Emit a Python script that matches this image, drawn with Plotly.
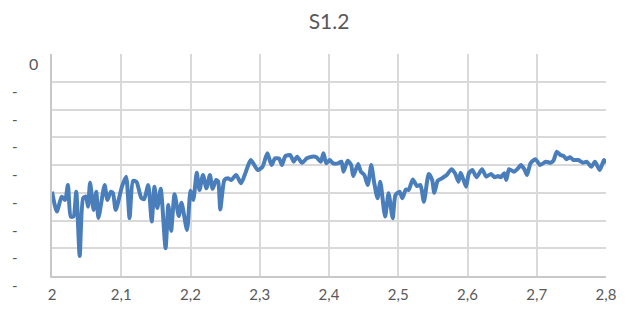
import plotly.graph_objects as go

x_vals = [2.000, 2.007, 2.014, 2.019, 2.023, 2.027, 2.031, 2.035, 2.040, 2.045,
          2.049, 2.052, 2.055, 2.060, 2.064, 2.067, 2.076, 2.080, 2.085, 2.088,
          2.092, 2.101, 2.107, 2.112, 2.117, 2.122, 2.129, 2.133, 2.139, 2.144,
          2.148, 2.152, 2.157, 2.164, 2.168, 2.172, 2.177, 2.183, 2.187, 2.195,
          2.200, 2.204, 2.209, 2.213, 2.218, 2.223, 2.228, 2.232, 2.237, 2.240,
          2.243, 2.249, 2.254, 2.259, 2.266, 2.273, 2.280, 2.287, 2.297, 2.304,
          2.311, 2.317, 2.322, 2.328, 2.332, 2.337, 2.344, 2.349, 2.354, 2.361,
          2.368, 2.375, 2.382, 2.388, 2.392, 2.396, 2.401, 2.406, 2.413, 2.418,
          2.421, 2.427, 2.432, 2.435, 2.442, 2.446, 2.451, 2.456, 2.461, 2.465,
          2.470, 2.474, 2.481, 2.486, 2.492, 2.496, 2.502, 2.506, 2.511, 2.515,
          2.521, 2.527, 2.532, 2.537, 2.544, 2.549, 2.552, 2.557, 2.563, 2.570,
          2.577, 2.582, 2.587, 2.590, 2.594, 2.598, 2.602, 2.607, 2.613, 2.621,
          2.627, 2.634, 2.639, 2.644, 2.648, 2.653, 2.656, 2.660, 2.667, 2.673,
          2.677, 2.682, 2.686, 2.691, 2.698, 2.705, 2.713, 2.720, 2.724, 2.729,
          2.734, 2.739, 2.743, 2.748, 2.753, 2.760, 2.767, 2.772, 2.779, 2.784,
          2.791, 2.797, 2.800]

y_vals = [-4.96, -5.68, -5.14, -5.26, -4.72, -5.86, -5.86, -4.96, -7.28, -5.19,
          -5.14, -5.50, -4.64, -5.62, -4.96, -5.91, -4.72, -5.26, -4.96, -5.01,
          -5.62, -4.78, -4.42, -5.91, -4.57, -4.61, -5.19, -5.23, -4.72, -6.04,
          -4.78, -5.55, -4.86, -7.00, -5.44, -6.37, -5.05, -5.84, -5.36, -6.34,
          -4.93, -5.26, -4.28, -4.90, -4.36, -4.84, -4.36, -4.86, -4.54, -4.60,
          -5.60, -4.54, -4.48, -4.54, -4.36, -4.66, -4.24, -3.82, -4.18, -4.06,
          -3.58, -4.00, -3.76, -3.77, -4.00, -3.68, -3.64, -3.88, -3.70, -3.92,
          -3.76, -3.70, -3.72, -3.88, -3.58, -3.94, -3.82, -3.94, -3.94, -3.88,
          -4.24, -3.85, -4.00, -4.40, -3.96, -4.24, -4.36, -4.72, -4.00, -4.60,
          -5.20, -4.60, -5.86, -5.02, -5.92, -5.08, -4.96, -5.20, -4.88, -4.90,
          -4.52, -4.76, -4.72, -5.32, -4.32, -4.54, -5.00, -4.57, -4.48, -4.36,
          -4.15, -4.30, -4.60, -4.28, -4.52, -4.78, -4.30, -4.18, -4.44, -4.15,
          -4.42, -4.32, -4.44, -4.40, -4.44, -4.30, -4.54, -4.15, -4.24, -4.12,
          -4.00, -4.15, -4.36, -3.94, -3.79, -4.00, -3.88, -3.92, -3.85, -3.52,
          -3.64, -3.68, -3.79, -3.72, -3.82, -3.82, -3.92, -3.88, -4.06, -3.88,
          -4.18, -3.82, -3.94]

x_ticks = [2.0, 2.1, 2.2, 2.3, 2.4, 2.5, 2.6, 2.7, 2.8]
x_tick_text = ["2", "2,1", "2,2", "2,3", "2,4", "2,5", "2,6", "2,7", "2,8"]
y_grid = [0, -1, -2, -3, -4, -5, -6, -7, -8]
y_tick_text = ["0", "-", "-", "-", "-", "-", "-", "-", "-"]

FONT = "Lato, 'Open Sans', sans-serif"
TXT = "#595959"

fig = go.Figure()
fig.add_trace(go.Scatter(
    x=x_vals, y=y_vals, mode="lines",
    line=dict(color="#4a7ebb", width=4, shape="spline", smoothing=0.6),
    hoverinfo="skip", showlegend=False,
))

annotations = []
for v, t in zip(y_grid, y_tick_text):
    annotations.append(dict(
        x=0, xref="paper", y=v, yref="y", text=t, showarrow=False,
        xanchor="center", yanchor="middle",
        xshift=-19 if t == "0" else -37, yshift=-9,
        font=dict(family=FONT, size=16 if t == "0" else 15, color=TXT),
    ))

fig.update_layout(
    width=620, height=310,
    margin=dict(l=44, r=15, t=46, b=42),
    paper_bgcolor="white", plot_bgcolor="white",
    title=dict(text="S1.2", x=0.5, xref="paper", y=0.955, yanchor="middle",
               font=dict(family=FONT, size=21, color=TXT)),
    xaxis=dict(
        range=[2.0, 2.8], tickvals=x_ticks, ticktext=x_tick_text,
        showgrid=True, gridcolor="#d9d9d9", gridwidth=1.5,
        showline=True, linecolor="#c8c8c8", linewidth=1.5, mirror=False,
        zeroline=False, ticks="", ticklabelstandoff=4,
        tickfont=dict(family=FONT, size=15, color=TXT),
    ),
    yaxis=dict(
        range=[-8, 0], tickvals=y_grid, showticklabels=False,
        showgrid=True, gridcolor="#d9d9d9", gridwidth=1.5,
        showline=True, linecolor="#c8c8c8", linewidth=1.5,
        zeroline=False, ticks="",
    ),
    annotations=annotations,
)

fig.write_html("out.html")
